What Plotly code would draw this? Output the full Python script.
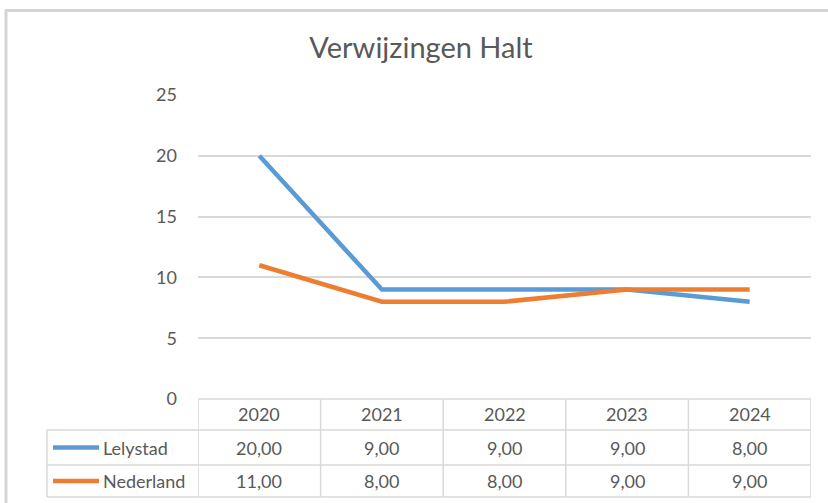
# Verwijzingen Halt - line chart with Excel-style data table

import plotly.graph_objects as go

years = ['2020', '2021', '2022', '2023', '2024']
lelystad = [20, 9, 9, 9, 8]
nederland = [11, 8, 8, 9, 9]
series_names = ['Lelystad', 'Nederland']
series_colors = ['#5B9BD5', '#ED7D31']
y_ticks = [0, 5, 10, 15, 20, 25]

W, H = 828, 503
L, R, T, B = 198, 811, 95, 399  # plot area in pixels
FONT = 'Lato, Liberation Sans, sans-serif'
TXT = '#595959'
GRID = '#D9D9D9'
FS = 18


def px_x(px):
    return (px - L) / (R - L)


def px_y(py):
    return (B - py) / (B - T)


x_idx = list(range(len(years)))
fig = go.Figure()
for name, vals, col in zip(series_names, [lelystad, nederland], series_colors):
    fig.add_trace(go.Scatter(x=x_idx, y=vals, mode='lines', name=name,
                             line=dict(color=col, width=4.5)))

shapes = []
annotations = []

# chart frame (only top and left visible in the crop)
shapes.append(dict(type='line', xref='paper', yref='paper', x0=px_x(5), x1=px_x(W + 5),
                   y0=px_y(10.5), y1=px_y(10.5), line=dict(color='#D4D4D4', width=3)))
shapes.append(dict(type='line', xref='paper', yref='paper', x0=px_x(6), x1=px_x(6),
                   y0=px_y(10), y1=px_y(H + 5), line=dict(color='#D4D4D4', width=3)))

# data table grid
row_tops = [399, 430, 465, 497]
for i, ry in enumerate(row_tops):
    x_start = L if i == 0 else 47
    shapes.append(dict(type='line', xref='paper', yref='paper', x0=px_x(x_start), x1=1,
                       y0=px_y(ry), y1=px_y(ry), line=dict(color=GRID, width=1.5)))
for k in range(len(years) + 1):
    shapes.append(dict(type='line', xref='x', yref='paper', x0=k - 0.5, x1=k - 0.5,
                       y0=px_y(399), y1=px_y(497), line=dict(color=GRID, width=1.5)))
shapes.append(dict(type='line', xref='paper', yref='paper', x0=px_x(47), x1=px_x(47),
                   y0=px_y(430), y1=px_y(497), line=dict(color=GRID, width=1.5)))

cell_font = dict(family=FONT, size=FS, color=TXT)

# header row
for k, yr in enumerate(years):
    annotations.append(dict(x=k, y=px_y(414.5), xref='x', yref='paper', text=yr,
                            xanchor='center', yanchor='middle',
                            showarrow=False, font=cell_font))

# series rows
for r, (name, vals, col) in enumerate(zip(series_names, [lelystad, nederland], series_colors)):
    cy = (row_tops[r + 1] + row_tops[r + 2]) / 2
    shapes.append(dict(type='line', xref='paper', yref='paper', x0=px_x(53), x1=px_x(99),
                       y0=px_y(cy), y1=px_y(cy), line=dict(color=col, width=4.5)))
    annotations.append(dict(x=px_x(101), y=px_y(cy), xref='paper', yref='paper', text=name,
                            xanchor='left', yanchor='middle', showarrow=False, font=cell_font))
    for k, v in enumerate(vals):
        annotations.append(dict(x=k, y=px_y(cy), xref='x', yref='paper',
                                text=f'{v:.2f}'.replace('.', ','), showarrow=False,
                                xanchor='center', yanchor='middle', font=cell_font))

fig.update_layout(
    width=W, height=H,
    margin=dict(l=L, r=W - R, t=T, b=H - B),
    paper_bgcolor='white', plot_bgcolor='white',
    showlegend=False,
    title=dict(text='Verwijzingen Halt', x=421 / W, xref='container', xanchor='center',
               y=1 - 48 / H, yanchor='middle',
               font=dict(family=FONT, size=29, color=TXT)),
    xaxis=dict(range=[-0.5, len(years) - 0.5], showticklabels=False, showgrid=False,
               zeroline=False, fixedrange=True),
    yaxis=dict(range=[0, 25], tickvals=y_ticks, showgrid=True, gridcolor=GRID, gridwidth=1.5,
               zeroline=False, ticks='', ticklabelstandoff=20,
               tickfont=cell_font),
)
fig.update_layout(shapes=shapes, annotations=annotations)

fig.write_html('out.html', config={'displayModeBar': False},
               post_script="document.body.style.margin='0px';")
